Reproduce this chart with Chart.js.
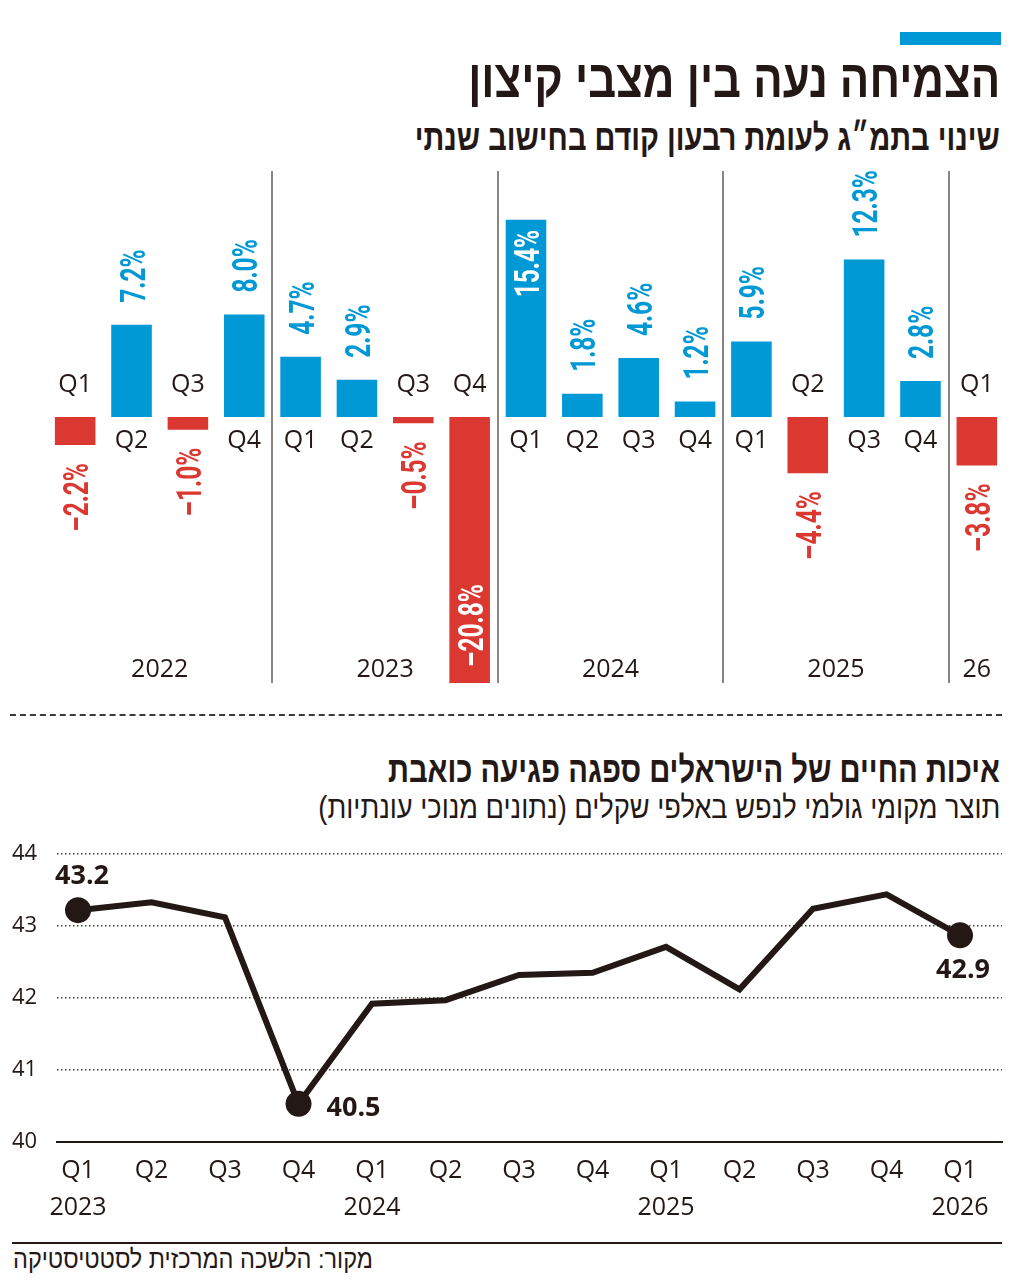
<!DOCTYPE html>
<html lang="he">
<head>
<meta charset="utf-8">
<script src="https://cdn.jsdelivr.net/npm/chart.js@4"></script>
<style>
  body { margin: 0; background: #fff; }
  #page { position: relative; width: 1024px; height: 1282px; overflow: hidden; color: #231815; }
  .heb { position: absolute; right: 24px; direction: rtl; white-space: nowrap;
         font-family: "Liberation Sans", sans-serif; line-height: 1; transform-origin: right center; }
  .box { position: absolute; left: 0; width: 1024px; }
</style>
</head>
<body>
<div id="page">
  <div style="position:absolute; left:900px; top:32px; width:101px; height:13px; background:#0098d5;"></div>
  <div class="heb" data-w="532" style="top:52px; font-size:53px; font-weight:bold;">הצמיחה נעה בין מצבי קיצון</div>
  <div class="heb" data-w="585" style="top:119px; font-size:37px; font-weight:bold;">שינוי בתמ״ג לעומת רבעון קודם בחישוב שנתי</div>

  <div class="box" style="top:160px; height:540px;"><canvas id="growthChart"></canvas></div>

  <div style="position:absolute; left:10px; top:714px; width:992px; border-top:2px dashed #3a3a3a;"></div>

  <div class="heb" data-w="612" style="top:751px; font-size:37px; font-weight:bold;">איכות החיים של הישראלים ספגה פגיעה כואבת</div>
  <div class="heb" data-w="682" style="top:792px; font-size:31px;">תוצר מקומי גולמי לנפש באלפי שקלים (נתונים מנוכי עונתיות)</div>

  <div class="box" style="top:840px; height:400px;"><canvas id="gdpChart"></canvas></div>

  <div style="position:absolute; left:12px; top:1242px; width:990px; height:2px; background:#231815;"></div>
  <div class="heb" data-w="360" style="right:auto; left:13px; transform-origin:left center; top:1246px; font-size:26px;">מקור: הלשכה המרכזית לסטטיסטיקה</div>
</div>

<script>
// צמיחה רבעונית
const quarters = ['Q1', 'Q2', 'Q3', 'Q4', 'Q1', 'Q2', 'Q3', 'Q4', 'Q1', 'Q2', 'Q3', 'Q4', 'Q1', 'Q2', 'Q3', 'Q4', 'Q1'];
const years = ['2022', '2023', '2024', '2025', '26'];
const growth = [-2.2, 7.2, -1.0, 8.0, 4.7, 2.9, -0.5, -20.8, 15.4, 1.8, 4.6, 1.2, 5.9, -4.4, 12.3, 2.8, -3.8];

// תוצר לנפש
const lineQuarters = ['Q1', 'Q2', 'Q3', 'Q4', 'Q1', 'Q2', 'Q3', 'Q4', 'Q1', 'Q2', 'Q3', 'Q4', 'Q1'];
const lineYears = ['2023', '', '', '', '2024', '', '', '', '2025', '', '', '', '2026'];
const gdpPerCapita = [43.22, 43.33, 43.12, 40.53, 41.92, 41.97, 42.32, 42.35, 42.71, 42.12, 43.24, 43.44, 42.87];
const gdpTicks = [40, 41, 42, 43, 44];
const labelledPoints = [0, 3, 12];

const BLUE = '#0098d5';
const RED = '#dc3832';
const INK = '#231815';

// squeeze the hebrew headings to the width they have in print
document.querySelectorAll('.heb').forEach(el => {
    const w = el.getBoundingClientRect().width;
    el.style.transform = 'scaleX(' + (el.dataset.w / w) + ')';
});

const barLabels = {
    id: 'barLabels',
    afterDatasetsDraw(chart) {
        const { ctx, chartArea } = chart;
        const y0 = chart.scales.y.getPixelForValue(0);
        const bars = chart.getDatasetMeta(0).data;

        ctx.save();
        ctx.fillStyle = INK;
        ctx.textAlign = 'center';
        ctx.textBaseline = 'middle';
        ctx.font = '25px "Open Sans"';
        bars.forEach((bar, i) => {
            ctx.fillText(quarters[i], bar.x, growth[i] < 0 ? y0 - 32 : y0 + 24);
        });

        // year under each group of quarters
        const starts = [];
        quarters.forEach((q, i) => { if (q === 'Q1') starts.push(i); });
        starts.forEach((s, g) => {
            const e = (g + 1 < starts.length ? starts[g + 1] : quarters.length) - 1;
            ctx.fillText(years[g], (bars[s].x + bars[e].x) / 2, chartArea.bottom - 13);
        });
        ctx.restore();

        bars.forEach((bar, i) => {
            const v = growth[i];
            const txt = (v < 0 ? '\u2013' : '') + Math.abs(v).toFixed(1) + '%';
            const inside = Math.abs(v) > 14;
            let y, align;
            if (v >= 0) {
                y = inside ? bar.y + 10 : bar.y - 22;
                align = inside ? 'right' : 'left';
            } else {
                y = inside ? bar.y - 16 : bar.y + 18;
                align = inside ? 'left' : 'right';
            }
            ctx.save();
            ctx.translate(bar.x, y);
            ctx.rotate(-Math.PI / 2);
            ctx.scale(0.7, 1);
            ctx.font = 'bold 35px Roboto';
            ctx.textAlign = align;
            ctx.textBaseline = 'alphabetic';
            ctx.fillStyle = inside ? '#fff' : (v < 0 ? RED : BLUE);
            ctx.fillText(txt, 0, 13);
            ctx.restore();
        });
    }
};

new Chart(document.getElementById('growthChart'), {
    type: 'bar',
    data: {
        labels: quarters,
        datasets: [{
            data: growth,
            backgroundColor: growth.map(v => v < 0 ? RED : BLUE),
            barPercentage: 0.72,
            categoryPercentage: 1
        }]
    },
    options: {
        responsive: true,
        maintainAspectRatio: false,
        animation: false,
        layout: { padding: { left: 47, right: 19, top: 11, bottom: 17 } },
        plugins: { legend: { display: false }, tooltip: { enabled: false } },
        scales: {
            x: {
                offset: true,
                border: { display: false },
                ticks: { display: false },
                grid: {
                    offset: true,
                    drawTicks: false,
                    lineWidth: 2,
                    color: c => (c.index > 0 && c.index < quarters.length && quarters[c.index] === 'Q1') ? '#8a8580' : 'transparent'
                }
            },
            y: { display: false, min: -20.8, max: 19.22 }
        }
    },
    plugins: [barLabels]
});

const pointLabels = {
    id: 'pointLabels',
    afterDatasetsDraw(chart) {
        const { ctx } = chart;
        const pts = chart.getDatasetMeta(0).data;
        const offsets = { 0: [4, -34], 3: [55, 4], 12: [3, 35] };
        ctx.save();
        ctx.font = 'bold 27px "Open Sans"';
        ctx.fillStyle = INK;
        ctx.textAlign = 'center';
        ctx.textBaseline = 'middle';
        labelledPoints.forEach(i => {
            const [dx, dy] = offsets[i];
            ctx.fillText(gdpPerCapita[i].toFixed(1), pts[i].x + dx, pts[i].y + dy);
        });
        ctx.restore();
    }
};

new Chart(document.getElementById('gdpChart'), {
    type: 'line',
    data: {
        datasets: [{
            data: gdpPerCapita.map((v, i) => ({ x: i, y: v })),
            borderColor: INK,
            borderWidth: 6,
            borderJoinStyle: 'miter',
            tension: 0,
            pointRadius: gdpPerCapita.map((v, i) => labelledPoints.includes(i) ? 13 : 0),
            pointHoverRadius: 0,
            pointBackgroundColor: INK,
            pointBorderWidth: 0
        }]
    },
    options: {
        responsive: true,
        maintainAspectRatio: false,
        animation: false,
        layout: { padding: { left: 12, right: 22, top: 14, bottom: 0 } },
        plugins: { legend: { display: false }, tooltip: { enabled: false } },
        scales: {
            x: {
                type: 'linear',
                min: -0.286,
                max: 12.571,
                afterBuildTicks: s => { s.ticks = lineQuarters.map((q, i) => ({ value: i })); },
                afterFit: s => { s.height = 98; },
                grid: { display: false, drawTicks: false },
                border: { display: true, color: INK, width: 2 },
                ticks: {
                    padding: 10,
                    autoSkip: false,
                    maxRotation: 0,
                    color: INK,
                    font: { family: 'Open Sans', size: 25, lineHeight: 1.5 },
                    callback: v => lineYears[v] ? [lineQuarters[v], lineYears[v]] : lineQuarters[v]
                }
            },
            y: {
                min: 40,
                max: 44,
                afterBuildTicks: s => { s.ticks = gdpTicks.map(v => ({ value: v })); },
                afterFit: s => { s.width = 45; },
                border: { display: false, dash: [1.5, 2.5] },
                grid: {
                    drawTicks: false,
                    lineWidth: 1.5,
                    color: c => c.tick.value === 40 ? 'transparent' : '#4a4540'
                },
                ticks: {
                    padding: 0,
                    crossAlign: 'far',
                    color: INK,
                    font: { family: 'Open Sans', size: 22 }
                }
            }
        }
    },
    plugins: [pointLabels]
});
</script>
</body>
</html>
